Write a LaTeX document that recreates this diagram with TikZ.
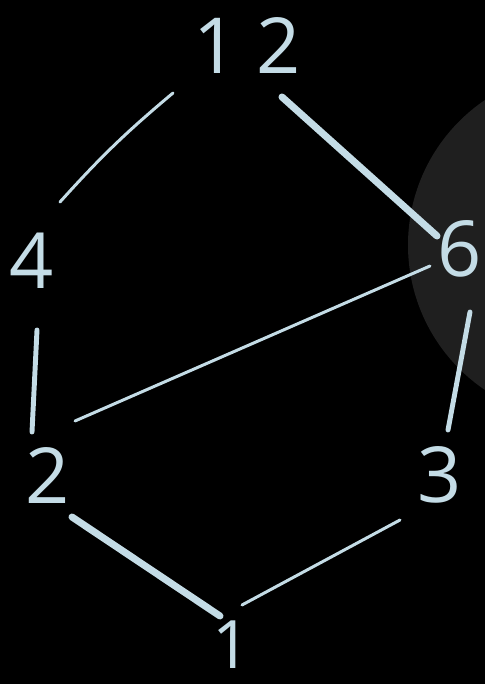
\documentclass[tikz,border=0pt]{standalone}
\usepackage{fontspec}
\setmainfont{Open Sans}
\definecolor{chalk}{HTML}{C4DCE6}
\begin{document}
\begin{tikzpicture}[x=1cm,y=1cm,
  num/.style={text=chalk,font=\fontsize{44}{44}\selectfont,inner sep=0pt},
  fine/.style={draw=chalk,line width=1.7pt,line cap=round},
  medium/.style={draw=chalk,line width=2.8pt,line cap=round},
  heavy/.style={draw=chalk,line width=4pt,line cap=round}]
\useasboundingbox (0,0) rectangle (9.7,13.68);
\fill[black] (0,0) rectangle (9.7,13.68);
\fill[black!88!white] (11.66,8.78) circle (3.5);
\node[num] (n12) at (4.94,12.76) {1\kern0.25em 2};
\node[num] (n4) at (0.64,8.46) {4};
\node[num] (n6) at (9.20,8.70) {6};
\node[num] (n2) at (0.96,4.16) {2};
\node[num] (n3) at (8.80,4.18) {3};
\node[num,font=\fontsize{38}{38}\selectfont] (n1) at (4.64,0.78) {1};
\draw[fine] ([shift={(-1.48,-0.94)}]n12.center) to[bend right=4] ([shift={(0.56,1.18)}]n4.center);
\draw[heavy] ([shift={(0.70,-1.02)}]n12.center) -- ([shift={(-0.46,0.26)}]n6.center);
\draw[medium] ([shift={(0.10,-1.38)}]n4.center) -- ([shift={(-0.32,0.88)}]n2.center);
\draw[fine] ([shift={(-0.60,-0.34)}]n6.center) -- ([shift={(0.54,1.10)}]n2.center);
\draw[medium] ([shift={(0.20,-1.26)}]n6.center) -- ([shift={(0.16,0.90)}]n3.center);
\draw[heavy] ([shift={(0.48,-0.82)}]n2.center) -- ([shift={(-0.24,0.58)}]n1.center);
\draw[fine] ([shift={(-0.80,-0.90)}]n3.center) -- ([shift={(0.20,0.80)}]n1.center);
\end{tikzpicture}
\end{document}
